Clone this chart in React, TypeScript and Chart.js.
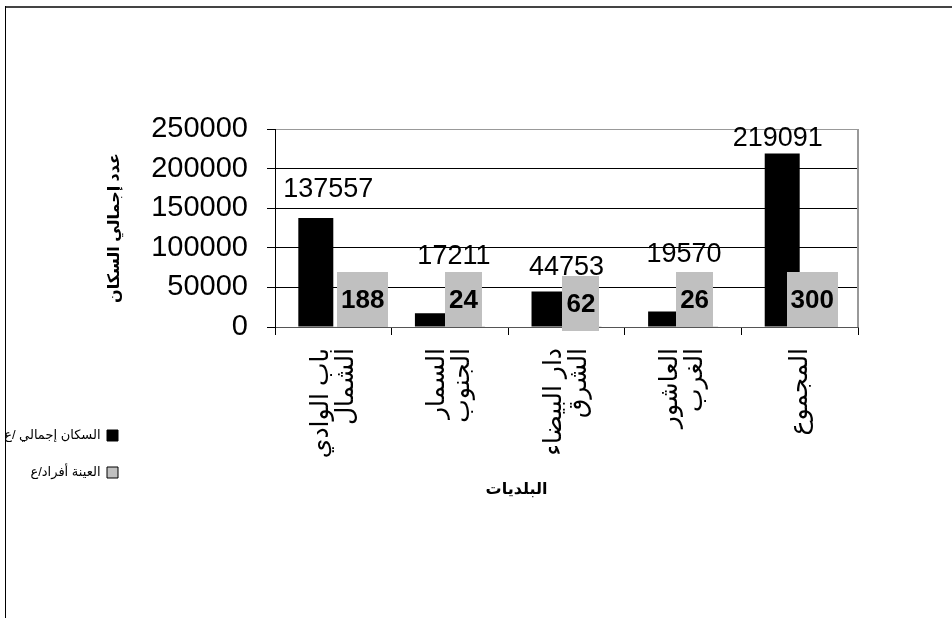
import React, { useEffect, useRef } from 'react';
import { Chart, registerables } from 'chart.js';

Chart.register(...registerables);

// ---------- data ----------
const categories: (string | string[])[] = [
  ['باب الوادي', 'الشمال'],
  ['السمار', 'الجنوب'],
  ['دار البيضاء', 'الشرق'],
  ['العاشور', 'الغرب'],
  'المجموع',
];
const populationTotal = [137557, 17211, 44753, 19570, 219091];
const sampleSize = [188, 24, 62, 26, 300];
const yTickValues = [0, 50000, 100000, 150000, 200000, 250000];
const seriesNames = ['السكان إجمالي /ع', 'العينة أفراد/ع'];
const yTitle = 'عدد إجمالي السكان';
const xTitle = 'البلديات';

// ---------- style ----------
const FONT = "'Liberation Sans', 'DejaVu Sans', Arial, sans-serif";
const GRAY = '#C0C0C0';
const popLabelDx = [-5, 4, 0, 1, -22];
const popLabelDy = [-14, 0, 7, -2, 0];
const sampleBoxDx = [12, -4, -3, -6, -5];
const sampleBoxShift = [0, 0, 4, 0, 0];
const SAMPLE_BOX_H = 55;
const X_LABEL_LH = 25;

const framePlugin = {
  id: 'frame',
  beforeDraw(chart: any) {
    const { ctx, width, height } = chart;
    ctx.save();
    ctx.fillStyle = '#fff';
    ctx.fillRect(0, 0, width, height);
    ctx.fillStyle = '#444';
    ctx.fillRect(5, 6, width - 5, 2);
    ctx.fillStyle = '#000';
    ctx.fillRect(5, 6, 1, height - 6);
    ctx.restore();
  },
};

const legendPlacePlugin = {
  id: 'legendPlace',
  afterLayout(chart: any) {
    const lg = chart.legend;
    if (!lg) return;
    const pad = lg.options.labels.padding;
    const boxRight = chart.chartArea.left - 157;
    lg.left = boxRight + pad - lg.width;
    lg.right = lg.left + lg.width;
    lg.top = chart.chartArea.bottom + 78;
    lg.bottom = lg.top + 150;
  },
};

const labelsPlugin = {
  id: 'barLabels',
  afterDatasetsDraw(chart: any) {
    const { ctx, chartArea } = chart;
    const yScale = chart.scales.y;
    const xScale = chart.scales.x;
    const base = yScale.getPixelForValue(0);
    const m0 = chart.getDatasetMeta(0);
    const m1 = chart.getDatasetMeta(1);
    ctx.save();
    // right border of the plot area
    ctx.fillStyle = '#999';
    ctx.fillRect(Math.round(chartArea.right) - 1, chartArea.top, 2, chartArea.bottom - chartArea.top);

    ctx.font = `bold 26px ${FONT}`;
    const boxes = m1.data.map((bar: any, i: number) => {
      const tw = ctx.measureText(String(sampleSize[i])).width;
      const w = Math.round(tw + 8);
      const cx = bar.x + sampleBoxDx[i];
      const bottom = base + sampleBoxShift[i];
      return { cx, w, top: bottom - SAMPLE_BOX_H, bottom };
    });

    ctx.font = `27px ${FONT}`;
    ctx.textAlign = 'center';
    ctx.textBaseline = 'middle';
    ctx.fillStyle = '#000';
    m0.data.forEach((bar: any, i: number) => {
      const cx = (bar.x + m1.data[i].x) / 2 + popLabelDx[i];
      const y = Math.min(bar.y, boxes[i].top) - 15 + popLabelDy[i];
      ctx.fillText(String(populationTotal[i]), cx, y);
    });

    boxes.forEach((b: any, i: number) => {
      ctx.fillStyle = GRAY;
      ctx.fillRect(Math.round(b.cx - b.w / 2), Math.round(b.top), b.w, Math.round(b.bottom - b.top));
      ctx.fillStyle = '#000';
      ctx.font = `bold 26px ${FONT}`;
      ctx.fillText(String(sampleSize[i]), b.cx, (b.top + b.bottom) / 2 + 1);
    });

    // x axis title
    ctx.font = `bold 16px ${FONT}`;
    ctx.fillStyle = '#000';
    ctx.fillText(xTitle, (xScale.left + xScale.right) / 2 - 50, chartArea.bottom + 163);
    ctx.restore();
  },
};

export default function App() {
  const ref = useRef<HTMLCanvasElement>(null);

  useEffect(() => {
    document.body.style.margin = '0';
    const canvas = ref.current;
    if (!canvas) return;
    const chart = new Chart(canvas, {
      type: 'bar',
      data: {
        labels: categories as any,
        datasets: [
          {
            label: seriesNames[0],
            data: populationTotal,
            backgroundColor: '#000',
            borderWidth: 0,
            categoryPercentage: 0.6,
            barPercentage: 1.0,
          },
          {
            label: seriesNames[1],
            data: sampleSize,
            backgroundColor: GRAY,
            borderWidth: 0,
            categoryPercentage: 0.6,
            barPercentage: 1.0,
          },
        ],
      },
      options: {
        responsive: false,
        animation: false,
        devicePixelRatio: 1,
        events: [],
        layout: { padding: { left: 100, right: 94, top: 129, bottom: 0 } },
        font: { family: FONT },
        scales: {
          x: {
            afterFit: (s: any) => {
              s.height = 291;
            },
            grid: {
              display: true,
              drawOnChartArea: false,
              drawTicks: true,
              tickLength: 8,
              color: '#000',
              offset: true,
            },
            border: { display: true, color: '#555', width: 1 },
            ticks: {
              autoSkip: false,
              minRotation: 90,
              maxRotation: 90,
              padding: 13,
              labelOffset: -X_LABEL_LH / 2,
              color: '#000',
              font: (c: any) =>
                Array.isArray(categories[c.index])
                  ? { size: 25, lineHeight: `${X_LABEL_LH}px`, family: FONT }
                  : { size: 25, lineHeight: `${X_LABEL_LH / 2}px`, family: FONT },
              callback: (_v: any, i: number) => {
                const c = categories[i];
                return Array.isArray(c) ? c : ['', c];
              },
            },
          },
          y: {
            min: 0,
            max: 250000,
            afterFit: (s: any) => {
              s.width = 175;
            },
            afterBuildTicks: (s: any) => {
              s.ticks = yTickValues.map((v) => ({ value: v }));
            },
            grid: {
              color: (c: any) =>
                c.tick && c.tick.value === 250000 ? '#999' : c.tick && c.tick.value === 0 ? '#555' : '#000',
              tickColor: '#000',
              tickLength: 8,
              lineWidth: 1,
            },
            border: { display: true, color: '#000', width: 1 },
            ticks: {
              padding: 19,
              color: '#000',
              font: { size: 29, family: FONT },
              callback: (v: any) => String(v),
            },
            title: {
              display: true,
              text: yTitle,
              color: '#000',
              font: { size: 16, weight: 'bold', family: FONT },
              padding: { top: 5, bottom: 4 },
            },
          },
        },
        plugins: {
          tooltip: { enabled: false },
          title: { display: false },
          legend: {
            display: true,
            position: 'chartArea' as any,
            align: 'start',
            rtl: true,
            labels: {
              boxWidth: 11,
              boxHeight: 11,
              padding: 24,
              color: '#000',
              font: { size: 13, family: FONT },
              generateLabels: (ch: any) =>
                (Chart.defaults.plugins.legend.labels.generateLabels as any)(ch).map((l: any) => ({
                  ...l,
                  lineWidth: 1,
                  strokeStyle: '#000',
                })),
            },
          },
        },
      } as any,
      plugins: [framePlugin, legendPlacePlugin, labelsPlugin],
    });
    return () => chart.destroy();
  }, []);

  return (
    <div style={{ width: 952, height: 618, overflow: 'hidden' }}>
      <canvas ref={ref} width={952} height={618} style={{ display: 'block' }} />
    </div>
  );
}
